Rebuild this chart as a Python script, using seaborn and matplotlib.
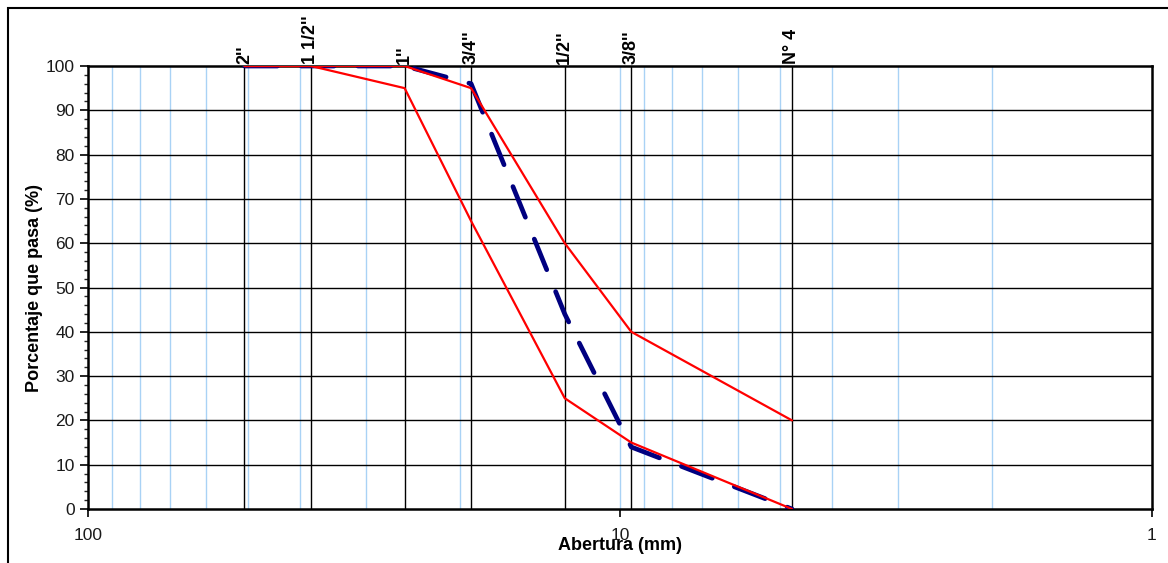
import numpy as np
import pandas as pd
import seaborn as sns
import matplotlib.pyplot as plt
from matplotlib.patches import Rectangle
from matplotlib.ticker import FixedLocator, MultipleLocator, NullLocator

# sieve openings (mm) and names
sieve_mm = [50.8, 38.1, 25.4, 19.05, 12.7, 9.525, 4.75]
sieve_names = ["2''", "1 1/2''", "1''", "3/4''", "1/2''", "3/8''", "N° 4"]

# gradation band limits and sample curve (% passing)
upper_limit = [100, 100, 100, 95, 60, 40, 20]
lower_limit = [100, 100, 95, 65, 25, 15, 0]
sample = [100, 100, 100, 96, 44, 14, 0]

sns.set_style("white")
plt.rcParams['font.family'] = ['Liberation Sans', 'DejaVu Sans']
plt.rcParams['text.color'] = 'black'

fig = plt.figure(figsize=(11.68, 5.63), dpi=100)
ax = fig.add_axes([88 / 1168, 1 - 509 / 563, (1152 - 88) / 1168, (509 - 66) / 563])

ax.set_xscale('log')
ax.set_xlim(100, 1)
ax.set_ylim(0, 100)

# light blue log grid
minor_x = [v * d for d in (1, 10) for v in range(2, 10)] + [10]
for v in minor_x:
    ax.axvline(v, color='#a9d2f5', lw=1, zorder=1)
# black sieve lines
for v in sieve_mm:
    ax.axvline(v, color='black', lw=1, zorder=2)
for y in range(10, 100, 10):
    ax.axhline(y, color='black', lw=1, zorder=2)

sns.lineplot(x=sieve_mm, y=upper_limit, ax=ax, color='#ff0000', lw=1.6, zorder=4, sort=False)
sns.lineplot(x=sieve_mm, y=lower_limit, ax=ax, color='#ff0000', lw=1.6, zorder=4, sort=False)
sns.lineplot(x=sieve_mm, y=sample, ax=ax, color='#000080', lw=3.4, zorder=3, sort=False,
             linestyle=(0, (7, 5)), dash_capstyle='round')

ax.xaxis.set_major_locator(FixedLocator([100, 10, 1]))
ax.xaxis.set_minor_locator(NullLocator())
ax.set_xticklabels(['100', '10', '1'])
ax.yaxis.set_major_locator(MultipleLocator(10))
ax.yaxis.set_minor_locator(MultipleLocator(2))
ax.tick_params(axis='both', which='major', direction='out', length=6, width=1.2,
               labelsize=12.5, color='black', labelcolor='#1a1a1a', bottom=True, left=True)
ax.tick_params(axis='y', which='minor', direction='out', length=3, width=1, left=True)
ax.tick_params(axis='x', which='major', pad=8)

for s in ax.spines.values():
    s.set_color('black')
    s.set_linewidth(1.8)

ax.set_xlabel('Abertura (mm)', fontsize=13, fontweight='bold', labelpad=-5, color='black')
ax.set_ylabel('Porcentaje que pasa (%)', fontsize=13, fontweight='bold', labelpad=2, color='black')

for x, name in zip(sieve_mm, sieve_names):
    ax.text(x, 100.5, name, rotation=90, ha='center', va='bottom',
            fontsize=13, fontweight='bold', clip_on=False, color='black')

# outer chart frame
fig.patches.append(Rectangle((8 / 1168, -0.1), 1.2, 1.1 - 8 / 563, transform=fig.transFigure,
                             fill=False, edgecolor='black', lw=1.5))

fig.savefig('out.png', dpi=100)
